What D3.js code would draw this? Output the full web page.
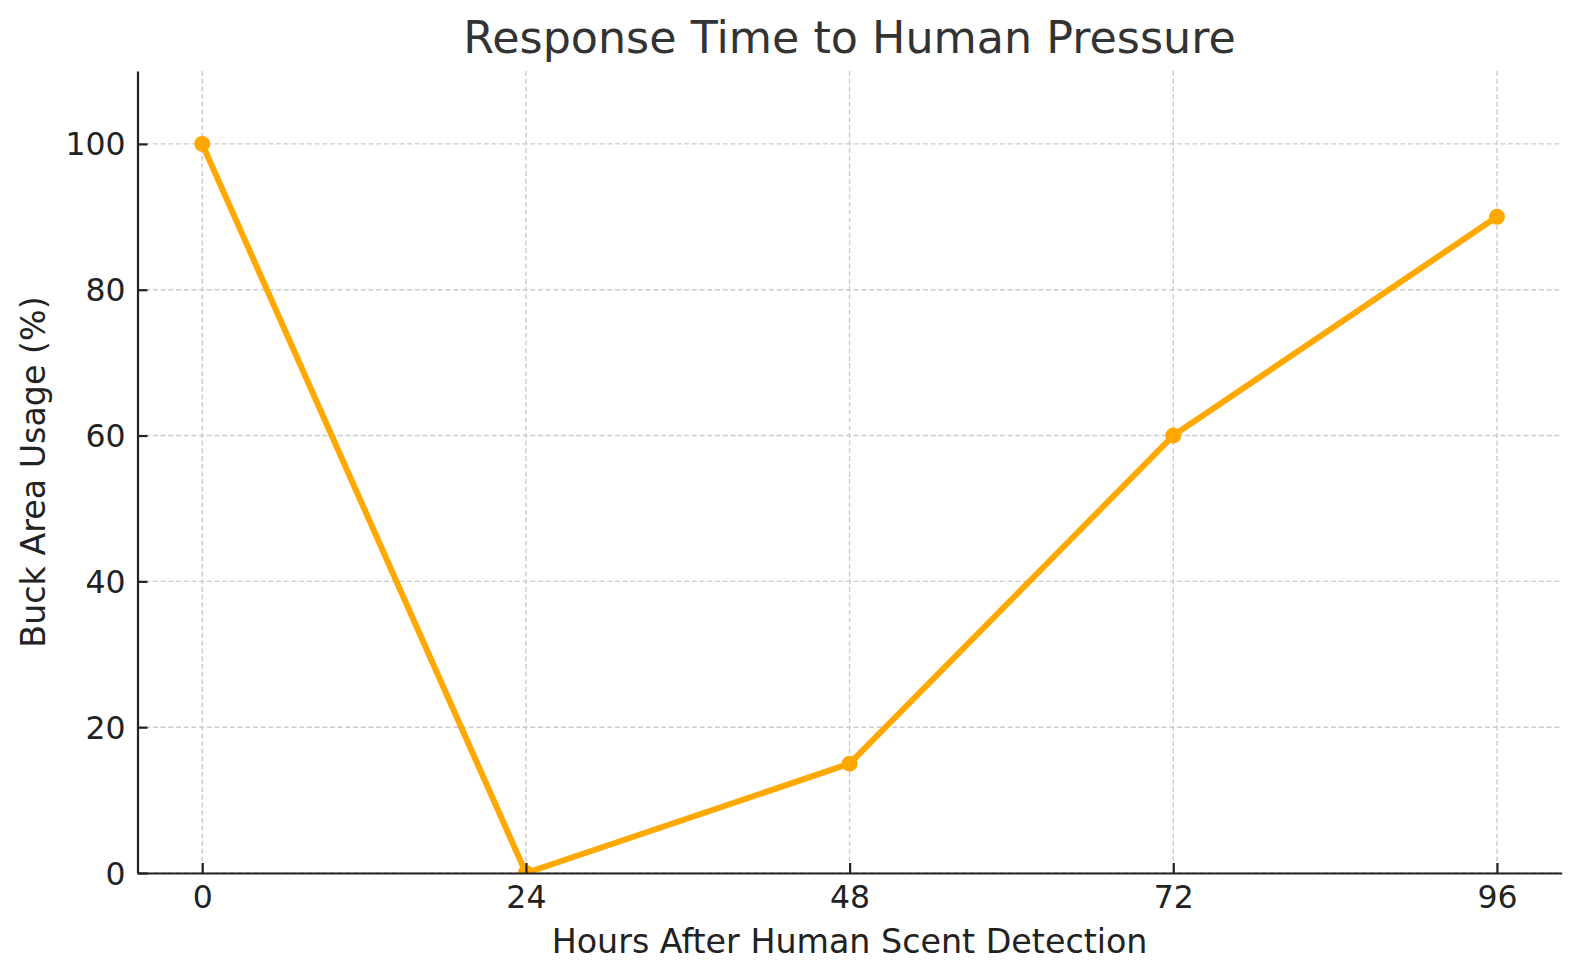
<!DOCTYPE html>
<html>
<head>
  <meta charset="utf-8">
  <script src="https://d3js.org/d3.v7.min.js"></script>
  <style>
    body { margin: 0; background: #fff; }
    text { font-family: "DejaVu Sans", sans-serif; }
  </style>
</head>
<body>
<script>
  // Data
  var hours = [0, 24, 48, 72, 96];
  var usage = [100, 0, 15, 60, 90];
  var xTicks = [0, 24, 48, 72, 96];
  var yTicks = [0, 20, 40, 60, 80, 100];

  var width = 1580, height = 980;
  var plotLeft = 137.5, plotRight = 1561.7, plotTop = 71, plotBottom = 873;

  var svg = d3.select("body").append("svg")
      .attr("width", width)
      .attr("height", height);

  var x = d3.scaleLinear().domain([-4.8, 100.8]).range([plotLeft, plotRight]);
  var y = d3.scaleLinear().domain([0, 110]).range([plotBottom, plotTop]);

  svg.append("defs").append("clipPath").attr("id", "plot")
    .append("rect")
      .attr("x", plotLeft).attr("y", plotTop)
      .attr("width", plotRight - plotLeft).attr("height", plotBottom - plotTop);

  // Gridlines
  var grid = svg.append("g").attr("stroke", "#cccccc")
      .attr("stroke-width", 1.4).attr("stroke-dasharray", "5,2.7");
  grid.selectAll(".gx").data(xTicks).enter().append("line")
      .attr("x1", d => x(d)).attr("x2", d => x(d))
      .attr("y1", plotTop).attr("y2", plotBottom);
  grid.selectAll(".gy").data(yTicks).enter().append("line")
      .attr("x1", plotLeft).attr("x2", plotRight)
      .attr("y1", d => y(d)).attr("y2", d => y(d));

  // Line and markers
  var pts = hours.map((h, i) => [h, usage[i]]);
  var plot = svg.append("g").attr("clip-path", "url(#plot)");
  plot.append("path")
      .datum(pts)
      .attr("fill", "none")
      .attr("stroke", "#FFA800")
      .attr("stroke-width", 6)
      .attr("stroke-linejoin", "round")
      .attr("d", d3.line().x(d => x(d[0])).y(d => y(d[1])));
  plot.selectAll("circle").data(pts).enter().append("circle")
      .attr("cx", d => x(d[0])).attr("cy", d => y(d[1]))
      .attr("r", 8).attr("fill", "#FFA800");

  // Axes (ticks pointing inward)
  var xAxis = svg.append("g").attr("transform", "translate(0," + plotBottom + ")")
      .call(d3.axisBottom(x).tickValues(xTicks).tickSizeInner(-10).tickSizeOuter(0).tickPadding(22));
  var yAxis = svg.append("g").attr("transform", "translate(" + plotLeft + ",0)")
      .call(d3.axisLeft(y).tickValues(yTicks).tickSizeInner(-10).tickSizeOuter(0).tickPadding(22));

  [xAxis, yAxis].forEach(function(a) {
    a.select(".domain").attr("stroke", "#222").attr("stroke-width", 2.2);
    a.selectAll(".tick line").attr("stroke", "#222").attr("stroke-width", 2.2);
    a.selectAll(".tick text").attr("fill", "#222").attr("font-size", 31.5)
      .attr("font-family", "DejaVu Sans, sans-serif");
  });
  xAxis.selectAll(".tick text").attr("dy", null).attr("y", 35);
  yAxis.selectAll(".tick text").attr("x", -12).attr("dy", "0.35em");

  // Titles
  svg.append("text")
      .attr("x", (plotLeft + plotRight) / 2).attr("y", 53)
      .attr("text-anchor", "middle")
      .attr("font-size", 44.4).attr("fill", "#333")
      .text("Response Time to Human Pressure");
  svg.append("text")
      .attr("x", (plotLeft + plotRight) / 2).attr("y", 952.5)
      .attr("text-anchor", "middle")
      .attr("font-size", 33.3).attr("fill", "#222")
      .text("Hours After Human Scent Detection");
  svg.append("text")
      .attr("transform", "translate(45," + (plotTop + plotBottom) / 2 + ") rotate(-90)")
      .attr("text-anchor", "middle")
      .attr("font-size", 33.3).attr("fill", "#222")
      .text("Buck Area Usage (%)");
</script>
</body>
</html>
